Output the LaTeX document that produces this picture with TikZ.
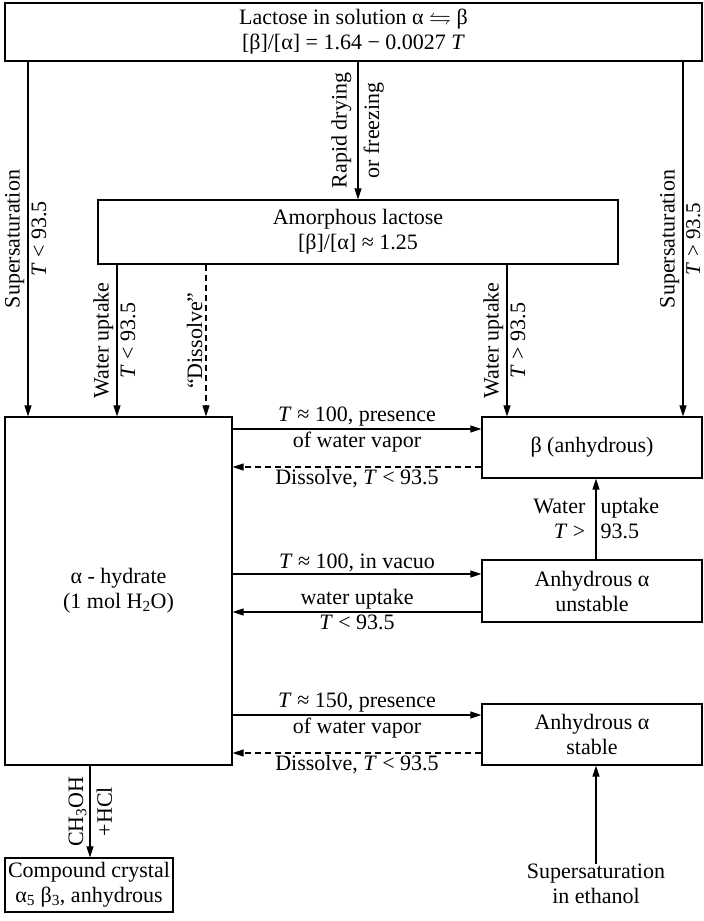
\documentclass[tikz,border=0pt]{standalone}
\usepackage{amsmath,amssymb}
\usepackage{fontspec}
\setmainfont{Liberation Serif}
\usepackage{tikz}
\usetikzlibrary{arrows.meta,positioning}

\begin{document}
\begin{tikzpicture}[
  x=1pt, y=-1pt,
  every node/.style={font=\fontsize{22}{25}\selectfont},
  box/.style={draw, line width=1.3pt, align=center, inner sep=0pt},
  arr/.style={-{Triangle[length=11pt,width=7pt]}, line width=1.2pt},
  darr/.style={arr, dash pattern=on 6pt off 4pt},
  vlab/.style={rotate=90, align=center, inner sep=3pt},
  lft/.style={vlab, anchor=south},
  rgt/.style={vlab, anchor=north}
]
\useasboundingbox (0,0) rectangle (704,921);

% boxes
\node[box, minimum width=697, minimum height=58] (sol) at (353.5,32)
  {Lactose in solution α $\leftrightharpoons$ β\\{}[β]/[α] = 1.64 − 0.0027 \textit{T}};
\node[box, minimum width=520, minimum height=64] (amor) at (358,232)
  {Amorphous lactose\\{}[β]/[α] ≈ 1.25};
\node[box, minimum width=227, minimum height=348] (hyd) at (118.5,591)
  {α - hydrate\\(1 mol H\textsubscript{2}O)};
\node[box, minimum width=220, minimum height=61] (beta) at (592,447.5)
  {β (anhydrous)};
\node[box, minimum width=220, minimum height=62] (unst) at (592,591)
  {Anhydrous α\\unstable};
\node[box, minimum width=220, minimum height=61] (stab) at (592,734.5)
  {Anhydrous α\\stable};
\node[box, minimum width=168, minimum height=54] (comp) at (89,885)
  {Compound crystal\\α\textsubscript{5} β\textsubscript{3}, anhydrous};
\node[align=center, inner sep=0pt] (eth) at (596,884)
  {Supersaturation\\in ethanol};

% columns and levels
\coordinate (colA) at (28,0);
\coordinate (colB) at (117,0);
\coordinate (colD) at (206,0);
\coordinate (colR) at (358,0);
\coordinate (colE) at (507,0);
\coordinate (colF) at (683,0);
\coordinate (colW) at (596,0);
\coordinate (colC) at (90,0);
\coordinate (lvA) at (0,429);
\coordinate (lvB) at (0,467);
\coordinate (lvC) at (0,574);
\coordinate (lvD) at (0,612);
\coordinate (lvE) at (0,715);
\coordinate (lvF) at (0,753);

% vertical arrows
\draw[arr] (colA |- sol.south) -- (colA |- hyd.north)
  node[midway, lft] {Supersaturation} node[midway, rgt] {\textit{T} < 93.5};
\draw[arr] (colF |- sol.south) -- (colF |- beta.north)
  node[midway, lft] {Supersaturation}
  node[midway, rgt, inner sep=2.5pt, font=\fontsize{21}{25}\selectfont] {\textit{T} > 93.5};
\draw[arr] (colR |- sol.south) -- (colR |- amor.north)
  node[midway, lft, inner sep=6pt] {Rapid drying} node[midway, rgt, inner sep=5pt] {or freezing};
\draw[arr] (colB |- amor.south) -- (colB |- hyd.north)
  node[midway, lft] {Water uptake} node[midway, rgt] {\textit{T} < 93.5};
\draw[darr] (colD |- amor.south) -- (colD |- hyd.north)
  node[midway, lft] {“Dissolve”};
\draw[arr] (colE |- amor.south) -- (colE |- beta.north)
  node[midway, lft] {Water uptake} node[midway, rgt] {\textit{T} > 93.5};
\draw[arr] (colW |- unst.north) -- (colW |- beta.south)
  node[midway, left=10pt, align=right, inner sep=0pt] {Water\\\textit{T} >}
  node[midway, right=4pt, align=left, inner sep=0pt] {uptake\\93.5};
\draw[arr] (eth.north) -- (colW |- stab.south);
\draw[arr] (colC |- hyd.south) -- (colC |- comp.north)
  node[midway, lft] {CH\textsubscript{3}OH} node[midway, rgt, inner sep=6pt] {+HCl};

% horizontal arrows
\draw[arr] (hyd.east |- lvA) -- (beta.west |- lvA)
  node[midway, above, inner sep=2pt] {\textit{T} ≈ 100, presence}
  node[midway, below, inner sep=2pt] {of water vapor};
\draw[darr] (beta.west |- lvB) -- (hyd.east |- lvB)
  node[midway, below, inner sep=2pt] {Dissolve, \textit{T} < 93.5};
\draw[arr] (hyd.east |- lvC) -- (unst.west |- lvC)
  node[midway, above, inner sep=2pt] {\textit{T} ≈ 100, in vacuo};
\draw[arr] (unst.west |- lvD) -- (hyd.east |- lvD)
  node[midway, above, inner sep=2pt] {water uptake}
  node[midway, below, inner sep=2pt] {\textit{T} < 93.5};
\draw[arr] (hyd.east |- lvE) -- (stab.west |- lvE)
  node[midway, above, inner sep=2pt] {\textit{T} ≈ 150, presence}
  node[midway, below, inner sep=2pt] {of water vapor};
\draw[darr] (stab.west |- lvF) -- (hyd.east |- lvF)
  node[midway, below, inner sep=2pt] {Dissolve, \textit{T} < 93.5};
\end{tikzpicture}
\end{document}
